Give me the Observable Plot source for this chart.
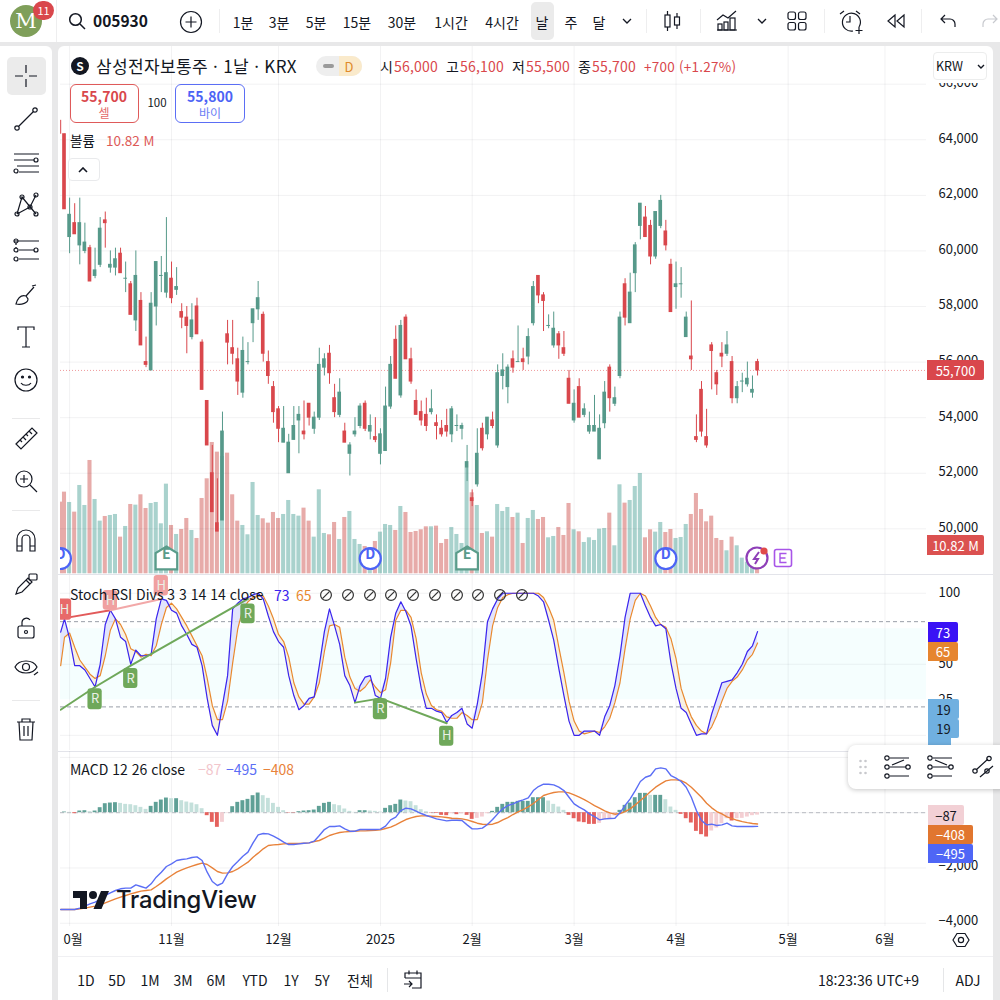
<!DOCTYPE html>
<html lang="ko"><head><meta charset="utf-8">
<script src="https://cdn.jsdelivr.net/npm/d3@7"></script>
<script src="https://cdn.jsdelivr.net/npm/@observablehq/plot@0.6"></script>
<style>
html,body{margin:0;padding:0;background:#fff}
#stage{position:relative;width:1000px;height:1000px;overflow:hidden;background:#e8e8e9;font-family:"Noto Sans CJK KR","Noto Sans",sans-serif;color:#131722}
.p{position:absolute}
.t{position:absolute;white-space:nowrap;line-height:1;transform:translateY(-50%)}
.c{transform:translate(-50%,-50%)}
.pl{position:absolute;left:0}
.pl svg{display:block}
.b{position:absolute;display:flex;align-items:center;justify-content:center;font-size:13px;line-height:1}
svg.ic{position:absolute;fill:none;stroke:#131722;stroke-width:1.2}
</style></head><body><div id="stage"></div>
<script>
// ---------- candles (KRW) ----------
const direction = "RGRGGRGGRG"+"GRGRGRRGGG"+"GRGRRGRRRR"+"RGRRRGGGGR"+"RRRGGGGRRG"+"GGRRGRGGGR"+"GRGGGRGRRR"+"RRGRRRGGGG"+"RGRGRGGGRG"+"RGGRRGGRRR"+"GRGGGGGRGG"+"RGGGRRGGRR"+"GGGRRRRRRR"+"GRGGGGR";
const priceHigh = [64200,61900,61700,61900,61000,60200,60100,61200,61400,60000,60100,60100,59600,58900,60000,58500,56900,58500,59600,59800,61200,59600,59400,58100,58000,58100,58300,56800,54600,53000,51800,54200,57500,57500,56500,56900,56700,57900,58900,57800,56400,55300,54400,54400,53400,54400,54400,54600,54500,54200,56500,56300,56600,55200,55400,53800,53100,54000,54500,54600,54100,54000,53600,55100,56200,57300,57500,57700,56500,55000,54600,54700,55000,54100,53900,54300,54400,54100,53800,53000,51400,53600,53800,54000,54200,55900,56300,55900,56400,57300,56500,57200,58900,59100,58500,57700,57800,57100,57100,55700,55000,55400,54500,54200,54800,54100,55300,55900,55100,57800,59000,59200,60300,61700,61600,61100,61400,62000,61100,59700,59600,59400,57800,58200,54100,55300,54300,56700,55700,56700,57100,56200,55300,55600,56000,55500,56100];
const bodyTop = [64200,61300,61000,61000,60300,60100,59300,60800,61100,59500,59700,59900,59000,58800,59100,58200,56000,58100,59600,59100,59200,59000,58700,57800,57600,57500,58000,56700,54600,52000,50200,53500,57000,56500,56100,56400,56000,57900,58300,57700,56000,55100,54300,53600,53100,53700,54100,53500,54500,54000,55900,56100,56300,54700,54900,53500,53000,53500,54400,54500,53700,53300,53400,54400,55900,56800,57300,57600,56100,54600,54200,54100,54300,53800,53600,53700,54300,53700,53700,52400,51100,52700,53600,54000,53900,55600,55700,55800,56100,56000,56100,56900,58700,59100,58400,57300,57200,57000,56500,55400,54500,55100,54300,53700,53700,53600,54900,55800,54700,57600,58800,58500,60200,61700,61200,60900,61400,61800,60700,59500,58800,58800,57600,56200,53300,55000,53300,56600,55600,56300,56600,56000,55100,55300,55400,55000,56000];
const bodyBottom = [61500,60500,60600,60200,60000,58900,59100,59500,61000,59400,59400,59200,59000,57700,57500,56600,55900,55700,58000,59100,58500,58300,58600,57600,57300,56900,57000,55000,53000,50600,49900,50300,56700,56300,55300,54900,56000,57400,57900,56300,55500,54200,53600,53100,52000,53200,53900,53400,54000,53600,54000,55800,55600,54200,54100,53100,52700,53400,53700,53600,53500,53200,52700,52800,54400,55400,54800,56100,55300,54100,53900,53700,54200,53700,53400,53500,53400,53700,53600,52200,51000,51600,52900,53400,53700,53000,55500,55100,55800,56000,56000,56200,57400,58400,58200,57300,56600,56600,56300,54500,53900,54000,54100,53500,53500,52500,53800,54700,54500,55500,57600,57400,59200,60900,60500,59800,59800,60900,60200,57800,58700,58800,56900,56100,53200,53500,53000,56400,55200,56200,56300,54700,54700,55300,55200,54900,55700];
const priceLow = [61500,59900,60600,59500,59900,58900,59000,59400,60100,59200,59100,59200,58500,57700,57100,56600,55800,55700,57300,58500,58300,58100,58400,57200,56300,56800,57000,55000,53000,50600,49900,50300,55900,55900,54800,54700,55900,56700,57500,56000,55200,53800,53100,53100,52000,53200,52700,53200,53700,53400,53900,55500,55200,54000,54000,53100,51900,53300,53600,53500,53200,53100,52300,52800,54300,55400,54700,56100,55200,54100,53700,53500,54100,53200,53300,53300,53100,53500,53200,51700,50800,51500,52800,53200,53600,52900,55000,54500,55600,56000,55700,55900,57300,58100,57100,57200,56500,56100,56200,54500,53800,54000,54000,53400,53500,52500,53600,54200,54400,55400,57300,57400,58500,60400,60500,59500,59700,60800,60000,57800,57900,58300,56900,55700,53100,53300,52900,55000,54800,55800,56200,54500,54500,54900,55100,54700,55500];
// volume, millions
const volumeM = [33.5,30.4,27.5,35.5,29.5,43,31.3,24.8,26.2,26.5,26.8,20,23.2,29.8,29.6,32.7,28.6,30.1,30.4,24,35.9,23.5,20.8,22.3,25.6,22,19.6,31.6,37.5,48.4,45.5,44.2,45.2,32.7,24.8,23.5,20.7,36.4,26.5,25.5,24.2,27.4,25.6,26.8,31,26.8,26.3,28.7,24.8,20,34.2,21.1,20.7,24.4,19.3,25.9,27.7,19.3,17.8,17.2,16.8,18.7,21.5,23.8,23.5,22,29.2,27.4,21.4,21.7,22.2,23.1,23.1,23.3,18.1,19.3,22.9,20.8,18.1,40.7,33.3,29.5,21.1,21.6,20,29.8,27.7,28.9,25.9,27.2,18.1,25.6,28,25.3,25.9,19.8,20.2,22.9,20.5,30.1,22.2,21.6,18.4,19.8,19,22.4,22.6,27.2,17.4,35.7,30.2,31,35.2,39.1,19.8,22.2,21.5,24.4,21.4,22.3,19.6,19.9,23.8,26.8,33.1,28.3,24.6,26.3,19.6,19,15.9,20,17.4,13.7,12.5,11,10.82];
// the bar just past the left edge of the view
const priorHigh = 64700, priorLow = 64200, priorVolume = 30.5, priorK = 72.6, priorD = 49, priorMacd = -3500;
// Stoch RSI
const stochK = [82,68,49,49,46,40,34,50,78,88,82,69,66,50,60,56,56,57,82,96,95,88,86,77,71,64,62,49,26,7,0,21,42,89,93,96,97,99,100,96,84,73,66,62,42,28,18,21,26,27,49,73,89,77,64,42,35,23,35,41,42,28,26,40,69,86,94,87,77,54,33,19,19,17,16,9,14,16,19,8,5,22,44,80,89,96,100,100,100,100,100,100,100,98,94,81,67,47,28,10,0,0,3,3,3,0,13,21,35,56,83,100,100,100,91,83,77,78,75,51,33,19,16,8,0,1,1,15,26,37,38,39,44,50,59,63,73];
const stochD = [69,72,62,53,48,43,40,42,56,74,82,78,71,61,59,55,57,56,63,78,90,93,89,83,77,70,63,56,40,21,11,11,24,51,75,89,94,97,98,98,91,82,71,66,55,37,27,22,22,27,37,59,77,78,76,55,41,33,31,34,39,34,30,32,51,81,88,88,83,68,44,29,21,18,17,13,12,12,16,14,11,11,23,53,77,90,97,99,100,100,100,100,100,100,97,90,81,62,44,24,10,3,1,2,3,2,6,12,23,37,61,82,95,100,98,91,83,78,76,68,54,33,22,13,7,3,1,6,14,24,33,38,41,46,53,57,65];
// MACD
const macdLine = [-3500,-3500,-3500,-3452,-3380,-3296,-3235,-3139,-2994,-2898,-2814,-2753,-2729,-2729,-2609,-2669,-2729,-2573,-2332,-2151,-1946,-1850,-1729,-1693,-1669,-1621,-1597,-1729,-2151,-2488,-2633,-2549,-2211,-1946,-1765,-1573,-1428,-1091,-801,-753,-765,-850,-946,-1066,-1151,-1151,-1127,-1103,-1091,-1030,-825,-609,-500,-500,-476,-584,-669,-669,-609,-609,-609,-609,-596,-488,-259,-163,78,163,139,54,-30,-102,-163,-223,-259,-295,-271,-271,-283,-440,-584,-584,-560,-428,-247,-42,139,259,319,404,464,536,801,946,1030,1030,1006,922,801,560,319,199,102,-42,-139,-259,-223,-211,-199,-6,259,500,801,1127,1283,1344,1585,1621,1585,1344,1247,1127,922,560,78,-283,-440,-416,-464,-440,-380,-476,-500,-500,-500,-500,-495];
const signalLine = [-3500,-3500,-3500,-3476,-3452,-3416,-3380,-3332,-3260,-3187,-3115,-3055,-2994,-2934,-2886,-2838,-2814,-2790,-2669,-2537,-2392,-2271,-2151,-2067,-1994,-1934,-1874,-1826,-1874,-1994,-2127,-2187,-2175,-2127,-2030,-1910,-1789,-1609,-1464,-1307,-1187,-1163,-1151,-1127,-1115,-1115,-1115,-1103,-1091,-1042,-1006,-922,-825,-765,-717,-693,-681,-669,-657,-657,-645,-633,-621,-572,-524,-440,-343,-247,-187,-139,-114,-114,-127,-139,-151,-175,-199,-211,-223,-259,-319,-380,-416,-428,-416,-355,-259,-175,-66,30,114,211,331,476,621,681,729,753,753,717,645,560,476,368,259,163,66,-6,-54,-30,42,139,283,440,596,765,922,1042,1151,1187,1187,1163,1066,922,741,560,343,175,42,-42,-150,-215,-275,-325,-360,-390,-408];
const macdHist = [24,12,-36,60,72,36,60,181,325,349,362,337,301,289,253,193,120,229,374,458,530,506,506,434,386,349,289,145,-108,-349,-530,-349,-12,217,374,434,482,615,711,615,518,337,193,72,-12,-12,36,60,72,96,229,337,374,289,253,133,48,12,72,72,60,48,24,157,253,301,458,422,398,253,108,36,-12,-24,-96,-108,-36,-72,-36,-96,-241,-205,-157,-36,48,193,301,374,374,410,410,410,542,542,542,422,301,205,84,-96,-217,-337,-361,-422,-422,-386,-265,-217,-120,84,265,349,542,699,699,627,627,627,470,205,84,-60,-217,-373,-675,-795,-880,-663,-554,-398,-217,-301,-217,-205,-157,-108,-87];
// axes
const priceTicks = [66000,64000,62000,60000,58000,56000,54000,52000,50000];
const stochTicks = [100,75,50,25];
const stochGrid = [100,50,0];
const macdTicks = [-2000,-4000];
const macdGrid = [2000,0,-2000,-4000];
const monthIdx = [1,21,42,62,80,100,120,142,161];
const monthLabels = ["10월","11월","12월","2025","2월","3월","4월","5월","6월"];
// divergence lines & labels of the Stoch RSI Divs study
const bearLine = [[0,82.5],[9,88]], bearLine2 = [[9,88],[19,96]];
const bullLine = [[-0.75,18],[6,34],[13,49],[36,96]];
const hidBull1 = [[57,23],[62,26]], hidBull2 = [[62,26],[75,8.5]];
const divIdx = [0,9,19,6,13,36,62,75];
const divText = ["H","H","H","R","R","R","R","H"];
const divHi = [96,102,112.5,32.7,47,92.5,25.7,6.4];
const divLo = [81,88,98,18,33,78.5,11,-7.7];
const divColor = ["#e86a6a","#f0a0a0","#f0a0a0","#6fa85a","#6fa85a","#6fa85a","#6fa85a","#6fa85a"];
const eventIdx = [-0.8,20,60,79,118];
const eventText = ["D","E","D","E","D"];

const RED="#d9474c", GREEN="#56998a";
const n = direction.length;
const idx = d3.range(n);
const xDomain=[-0.785,169.15];
const up = i => direction[i]==="G";
const candleRows = idx.map(i=>({i,top:bodyTop[i],bot:bodyBottom[i],hi:priceHigh[i],lo:priceLow[i],g:up(i),v:volumeM[i]}));
const stochRows = [{i:-0.75,k:priorK,d:priorD}].concat(idx.map(i=>({i,k:stochK[i],d:stochD[i]})));
const macdRows = [{i:-0.75,m:priorMacd,s:priorMacd}].concat(idx.map(i=>({i,m:macdLine[i],s:signalLine[i]})));
const histRows = idx.map(i=>{const v=macdHist[i],p=i?macdHist[i-1]:0;
  return {i,v,color:v>=0?(v>=p?"#5fa096":"#c4e0db"):(v<=p?"#e5615d":"#f4cfd3")};});
const GRID="#131722", GRIDOP=0.055, FF='"Noto Sans CJK KR","Noto Sans",sans-serif';
const stage=document.getElementById("stage");

function add(html){const d=document.createElement("div");d.innerHTML=html;while(d.firstChild)stage.appendChild(d.firstChild);}
function box(x,y,w,h,bg,extra=""){add(`<div class="p" style="left:${x}px;top:${y}px;width:${w}px;height:${h}px;background:${bg};${extra}"></div>`);}
function txt(x,y,s,o={}){add(`<div class="t${o.c?" c":""}" style="left:${x}px;top:${y}px;font-size:${o.fs||14}px;color:${o.col||"#131722"};font-weight:${o.w||400};${o.extra||""}">${s}</div>`);}
function ic(x,y,w,h,inner,extra=""){add(`<svg class="ic" style="left:${x-w/2}px;top:${y-h/2}px;${extra}" width="${w}" height="${h}" viewBox="0 0 ${w} ${h}">${inner}</svg>`);}
function plotAt(top,height,opts,marks){
  const el=Plot.plot(Object.assign({width:1000,height,marginLeft:60,marginRight:74,marginTop:0,marginBottom:0,
    style:{background:"transparent",fontFamily:FF,fontSize:"13px",color:"#131722",overflow:"visible"},
    x:{domain:xDomain,axis:null},marks},opts));
  const w=document.createElement("div");w.className="pl";w.style.top=top+"px";w.appendChild(el);stage.appendChild(w);
}
function panelFrames(){
  box(0,0,1000,42,"#fff");            // top bar
  box(0,46,52,954,"#fff","border-radius:0 6px 0 0");   // tools
  box(58,46,935,954,"#fff","border-radius:6px 6px 0 0");    // chart
  box(58,574,935,1,"#e3e4ea"); box(58,751,935,1,"#e3e4ea");
  box(58,956,935,1,"#f0f0f3");
}
panelFrames();

// ---------- volume ----------
const vBars = [{i:-0.75,v:priorVolume,g:false}].concat(candleRows);
plotAt(46,528,{y:{domain:[8.79,167.2],axis:null}},[
  Plot.rect(vBars,{x1:d=>d.i-0.4,x2:d=>d.i+0.4,y1:9,y2:"v",fill:d=>d.g?"#a9d2cd":"#e7aba9",clip:true})
]);
// ---------- price ----------
const events = eventIdx.map((i,k)=>({i,t:eventText[k]}));
plotAt(46,528,{y:{domain:[48356,67357],axis:null}},[
  Plot.ruleY(priceTicks,{stroke:GRID,strokeOpacity:GRIDOP,clip:true}),
  Plot.ruleX(monthIdx,{stroke:GRID,strokeOpacity:GRIDOP,clip:true}),
  Plot.ruleY([bodyBottom[n-1]],{stroke:"#e8777a",strokeDasharray:"1 2",strokeOpacity:.75,clip:true}),
  Plot.ruleX([-0.75],{y1:priorLow,y2:priorHigh,stroke:RED,clip:true}),
  Plot.ruleX(candleRows,{x:"i",y1:"lo",y2:"hi",stroke:d=>d.g?GREEN:RED,strokeWidth:1}),
  Plot.rect(candleRows,{x1:d=>d.i-0.36,x2:d=>d.i+0.36,y1:"bot",y2:"top",fill:d=>d.g?GREEN:RED,insetTop:-0.5,insetBottom:-0.5}),
  Plot.axisY({anchor:"right",ticks:priceTicks,tickSize:0,tickPadding:12,label:null,tickFormat:d3.format(","),dy:-1.3,fontSize:13}),
  // corporate-event flags sit on the same time scale
  Plot.dot(events.filter(d=>d.t==="D"),{x:"i",frameAnchor:"bottom",dy:-16,r:10.5,fill:"#fff",stroke:"#4c63f5",strokeWidth:2.2,clip:true}),
  Plot.dot(events.filter(d=>d.t==="E"),{x:"i",frameAnchor:"bottom",dy:-16,r:12,fill:"#fff",stroke:"#5a9c8a",strokeWidth:2.2,
    symbol:{draw(c,s){const r=Math.sqrt(s/Math.PI);c.moveTo(0,-r);c.lineTo(r*.9,-r*.45);c.lineTo(r*.9,r*.9);c.lineTo(-r*.9,r*.9);c.lineTo(-r*.9,-r*.45);c.closePath();}}}),
  Plot.text(events,{x:"i",text:"t",frameAnchor:"bottom",dy:-16,fontSize:14,fontWeight:600,fill:d=>d.t==="D"?"#4c63f5":"#5a9c8a",clip:true})
]);
// ---------- Stoch RSI ----------
const dv = divIdx.map((i,k)=>({i,t:divText[k],hi:divHi[k],lo:divLo[k],c:divColor[k]}));
plotAt(575,175,{y:{domain:[-10.7,112.5],axis:null}},[
  Plot.rect([0],{x1:xDomain[0],x2:xDomain[1],y1:25,y2:75,fill:"#f5fefe"}),
  Plot.ruleY(stochGrid,{stroke:GRID,strokeOpacity:GRIDOP}),
  Plot.ruleX(monthIdx,{stroke:GRID,strokeOpacity:GRIDOP}),
  Plot.ruleY([80,20],{stroke:"#9a9ea8",strokeDasharray:"4 3"}),
  Plot.areaY(stochRows,{x:"i",y1:"d",y2:d=>Math.max(d.k,d.d),fill:"#dcdffb",fillOpacity:.8}),
  Plot.areaY(stochRows,{x:"i",y1:"d",y2:d=>Math.min(d.k,d.d),fill:"#f7efdf",fillOpacity:.9}),
  Plot.line(stochRows,{x:"i",y:"d",stroke:"#e8892f",strokeWidth:1.2,clip:true}),
  Plot.line(stochRows,{x:"i",y:"k",stroke:"#3a24ee",strokeWidth:1.2,clip:true}),
  Plot.line(bullLine,{x:"0",y:"1",stroke:"#6fa85a",strokeWidth:2,clip:true}),
  Plot.line(hidBull1,{x:"0",y:"1",stroke:"#6fa85a",strokeWidth:2}),
  Plot.line(hidBull2,{x:"0",y:"1",stroke:"#6fa85a",strokeWidth:2}),
  Plot.line(bearLine,{x:"0",y:"1",stroke:"#e25a5a",strokeWidth:2}),
  Plot.line(bearLine2,{x:"0",y:"1",stroke:"#f2a8a8",strokeWidth:2}),
  Plot.rect(dv,{x1:d=>d.i-1.4,x2:d=>d.i+1.4,y1:"lo",y2:"hi",fill:"c",rx:3,clip:true}),
  Plot.text(dv,{x:"i",y:d=>(d.hi+d.lo)/2,text:"t",fill:"#eaf0e6",fontSize:13,clip:true}),
  Plot.axisY({anchor:"right",ticks:stochTicks,tickSize:0,tickPadding:12,label:null,fontSize:13})
]);
// ---------- MACD ----------
plotAt(751,175,{y:{domain:[-4116,2213],axis:null}},[
  Plot.ruleY(macdGrid,{stroke:GRID,strokeOpacity:GRIDOP}),
  Plot.ruleX(monthIdx,{stroke:GRID,strokeOpacity:GRIDOP}),
  Plot.ruleY([0],{stroke:"#a8abb3",strokeDasharray:"4 3",strokeWidth:.8}),
  Plot.rect(histRows,{x1:d=>d.i-0.38,x2:d=>d.i+0.38,y1:0,y2:"v",fill:"color"}),
  Plot.line(macdRows,{x:"i",y:"s",stroke:"#e8823a",strokeWidth:1.4,clip:true}),
  Plot.line(macdRows,{x:"i",y:"m",stroke:"#5b6ef5",strokeWidth:1.4,clip:true}),
  Plot.axisY({anchor:"right",ticks:macdTicks,tickSize:0,tickPadding:12,label:null,tickFormat:d3.format(","),dy:-2,fontSize:13})
]);
// ---------- time axis ----------
plotAt(927,24,{y:{domain:[0,1],axis:null}},[
  Plot.text(monthIdx.map((i,k)=>({i,t:monthLabels[k]})),{x:"i",text:"t",y:0.5,fontSize:13,fontWeight:d=>d.t==="2025"?700:400,clip:true})
]);
box(58,928,5,22,"#fff");   // the view's left edge cuts the first month label

// ---------- chart legends ----------
const RT="#d9474c";
add(`<div class="p" style="left:71px;top:57px;width:18px;height:18px;border-radius:50%;background:#131722;color:#fff;font-size:12px;font-weight:700;text-align:center;line-height:18px">S</div>`);
txt(96,65,"삼성전자보통주 · 1날 · KRX",{fs:17,extra:"letter-spacing:.35px;"});
add(`<div class="p" style="left:316px;top:56px;width:46px;height:20px;border-radius:10px;background:#eeeeee;overflow:hidden"><div class="p" style="left:23px;top:0;width:23px;height:20px;background:#faeacb"></div><div class="p" style="left:7px;top:8px;width:11px;height:4px;border-radius:2px;background:#9a9a9a"></div><div class="t c" style="left:33px;top:10px;font-size:13px;color:#e08a2a">D</div></div>`);
[["시",380,"56,000",394],["고",446,"56,100",460],["저",512,"55,500",526],["종",578,"55,700",592]].forEach(a=>{txt(a[1],66,a[0],{fs:14});txt(a[3],66,a[2],{fs:14,col:RT,extra:"letter-spacing:.2px;"});});
txt(644,67,"+700 (+1.27%)",{fs:13.5,col:RT,extra:"letter-spacing:.25px;"});
box(928,50,64,33,"#fff");
add(`<div class="p" style="left:933px;top:52px;width:54px;height:28px;background:#fff;border:1px solid #eceded;border-radius:4px;box-sizing:border-box"></div>`);
txt(936,66,"KRW",{fs:12.5});
ic(981,66,8,5,`<path d="M1 1l3 3 3-3" stroke-width="1.4"/>`);
add(`<div class="p" style="left:70px;top:84px;width:69px;height:39px;box-sizing:border-box;border:1px solid #df5a5a;border-radius:6px;background:#fff"></div>
<div class="p" style="left:175px;top:84px;width:70px;height:39px;box-sizing:border-box;border:1px solid #5b6ef5;border-radius:6px;background:#fff"></div>`);
txt(104,96,"55,700",{c:1,fs:14,w:600,col:RT}); txt(104,113,"셀",{c:1,fs:12,col:"#e46a6a"});
txt(157,103,"100",{c:1,fs:11.5});
txt(210,96,"55,800",{c:1,fs:14,w:600,col:"#4c63f5"}); txt(210,113,"바이",{c:1,fs:12,col:"#6c7ef5"});
txt(70,141,"볼륨",{fs:13.5}); txt(106,141,"10.82 M",{fs:13.5,col:"#dd5a58"});
add(`<div class="p" style="left:68px;top:158px;width:32px;height:23px;background:#fff;border:1px solid #e9eaec;border-radius:4px;box-sizing:border-box"></div>`);
ic(83,170,10,6,`<path d="M1 5l4-4 4 4" stroke-width="1.6"/>`);

// event icons at the right end
ic(757,558,26,26,`<circle cx="13" cy="13" r="10.5" stroke="#8e3fb8" stroke-width="2.2"/><path d="M15 7l-5 7h4l-3 5" stroke="#8e3fb8" stroke-width="2"/><circle cx="20" cy="6" r="3.6" fill="#e04a4a" stroke="none"/>`);
ic(783,558,20,20,`<rect x="1.5" y="1.5" width="17" height="17" rx="2" fill="#fff" stroke="#a855e8" stroke-width="1.6"/><path d="M13.5 5.5h-6.5v9h6.5M7 10h5.5" stroke="#a855e8" stroke-width="1.4"/>`);

txt(70,594,"Stoch RSI Divs 3 3 14 14 close",{fs:14});
txt(274,595,"73",{fs:14,col:"#3a24ee"}); txt(296,595,"65",{fs:14,col:"#e8892f"});
[326,348,370,391,413,435,457,478,500,522].forEach(x=>ic(x,595,14,14,`<circle cx="7" cy="7" r="5.4" stroke="#333"/><path d="M3.4 10.6L10.6 3.4" stroke="#333"/>`));
txt(70,769,"MACD 12 26 close",{fs:14});
txt(198,769,"−87",{fs:14,col:"#f2c6cc"}); txt(226,769,"−495",{fs:14,col:"#5b6ef5"}); txt(263,769,"−408",{fs:14,col:"#e8823a"});

// logo
add(`<svg class="p" style="left:73px;top:890px" width="36" height="20" viewBox="0 0 36 20"><path d="M14 19H7V8H0V1h14zM28.5 19h-8l7.5-18h8z M16 5a4 4 0 1 0 8 0a4 4 0 1 0-8 0z" fill="#131722" stroke="none"/></svg>`);
txt(116,900,"TradingView",{fs:23.8,w:500,extra:"font-family:Inter;letter-spacing:-.2px;"});

// ---------- right-edge badges ----------
function badge(x,y,w,h,bg,col,s,fs=13){add(`<div class="b" style="left:${x}px;top:${y}px;width:${w}px;height:${h}px;background:${bg};color:${col};font-size:${fs}px;border-radius:0 2px 2px 0">${s}</div>`);}
badge(927,360,57,20,RED,"#fff","55,700");
badge(927,535,57,20,"#db5150","#fff","10.82 M");
badge(928,622,30,20,"#3a12f5","#fff","73");
badge(928,642,30,19,"#e6852f","#fff","65");
badge(928,699,31,20,"#70b0e0","#131722","19");
badge(928,719,31,19,"#70b0e0","#131722","19");
box(928,738,23,8,"#70b0e0");
badge(928,805,36,20,"#f2d0d5","#131722","−87");
badge(928,825,45,19,"#e1762f","#fff","−408");
badge(928,844,45,19,"#4f66f6","#fff","−495");
// floating drawing toolbar
add(`<div class="p" style="left:848px;top:745px;width:160px;height:44px;background:#fff;border-radius:8px;box-shadow:0 1px 5px rgba(0,0,0,.22)"></div>`);
ic(863,767,10,18,`<g fill="#c8c9cd" stroke="none"><circle cx="2.5" cy="3" r="1.3"/><circle cx="7.5" cy="3" r="1.3"/><circle cx="2.5" cy="9" r="1.3"/><circle cx="7.5" cy="9" r="1.3"/><circle cx="2.5" cy="15" r="1.3"/><circle cx="7.5" cy="15" r="1.3"/></g>`);
ic(897,767,28,24,`<path d="M7 3h19M7 21h19M7 12h16M9 10l12-5" /><circle cx="4" cy="3" r="2.2"/><circle cx="4" cy="12" r="2.2"/><circle cx="4" cy="21" r="2.2"/><circle cx="25" cy="12" r="2.2"/>`);
ic(940,767,28,24,`<path d="M7 3h19M7 21h19M7 12h16M9 5l12 5" /><circle cx="4" cy="3" r="2.2"/><circle cx="4" cy="12" r="2.2"/><circle cx="4" cy="21" r="2.2"/><circle cx="25" cy="12" r="2.2"/>`);
ic(984,767,26,24,`<path d="M5 15L17 4M9 22L22 11"/><circle cx="4" cy="16" r="2.2"/><circle cx="18" cy="3.5" r="2.2"/><circle cx="16" cy="16" r="2.2"/>`);

// time-axis right
ic(961,940,18,18,`<path d="M5 2.5h8l4 6.5-4 6.5H5l-4-6.5z"/><circle cx="9" cy="9" r="2.6"/>`);
// ---------- bottom bar ----------
[["1D",86],["5D",117],["1M",150],["3M",183],["6M",216],["YTD",255],["1Y",291],["5Y",322],["전체",360]].forEach(a=>txt(a[1],980,a[0],{c:1,fs:14}));
box(387,968,1,24,"#e5e6e8"); box(943,968,1,24,"#e5e6e8");
ic(413,980,22,22,`<path d="M3 9V4h16v15H10M3 9h16M7 1.5v4M15 1.5v4M2 15h8M7 12l3 3-3 3"/>`);
txt(818,980,"18:23:36 UTC+9",{fs:14}); txt(968,980,"ADJ",{c:1,fs:14});

// ---------- top bar ----------
add(`<div class="p" style="left:10px;top:5px;width:32px;height:32px;border-radius:50%;background:#7f9f5a;color:#fff;font-size:21px;text-align:center;line-height:32px;font-family:'DejaVu Serif'">M</div>
<div class="p" style="left:33px;top:1px;width:21px;height:19px;border-radius:10px;background:#d9474c;color:#fff;font-size:11px;text-align:center;line-height:19px">11</div>`);
box(56,0,1,42,"#eeeeef");
ic(77,21,18,18,`<circle cx="7.5" cy="7.5" r="5.8" stroke-width="1.5"/><path d="M12 12l5 5" stroke-width="1.5"/>`);
txt(93,21,"005930",{fs:15.5,w:700});
ic(191,22,24,24,`<circle cx="12" cy="12" r="10.5"/><path d="M12 6.5v11M6.5 12h11"/>`);
box(219,9,1,24,"#eeeeef");
box(531,2,23,38,"#ebebeb","border-radius:5px");
[["1분",243],["3분",279],["5분",316],["15분",357],["30분",402],["1시간",451],["4시간",502],["날",542],["주",571],["달",599]].forEach(a=>txt(a[1],22,a[0],{c:1,fs:14}));
const chev=`<path d="M1 1l4 4 4-4" stroke-width="1.3"/>`;
ic(627,21,10,6,chev); ic(762,21,10,6,chev);
box(646,9,1,24,"#eeeeef"); box(700,9,1,24,"#eeeeef"); box(824,9,1,24,"#eeeeef"); box(921,9,1,24,"#eeeeef");
ic(672,21,20,24,`<rect x="3" y="6" width="5" height="12"/><rect x="12.5" y="8" width="5" height="8"/><path d="M5.5 2v4M5.5 18v4M15 4v4M15 16v4"/>`);
ic(727,20,22,22,`<path d="M1 11l6-5 5 3 8-7M1 21h20"/><rect x="2" y="15" width="4" height="6"/><rect x="8" y="13" width="4" height="8"/><rect x="14" y="9" width="5" height="12"/>`);
ic(797,21,22,22,`<rect x="2" y="2" width="7.5" height="7.5" rx="2"/><rect x="12.5" y="2" width="7.5" height="7.5" rx="2"/><rect x="2" y="12.5" width="7.5" height="7.5" rx="2"/><rect x="12.5" y="12.5" width="7.5" height="7.5" rx="2"/>`);
ic(851,22,26,26,`<path d="M21 18a9 9 0 1 0-6 4M12 7v6H8M2 5l4-3M22 5l-4-3M21 18v7M17.5 21.5h7"/>`);
ic(896,21,20,16,`<path d="M9 2L2 8l7 6zM18 2l-7 6 7 6z"/>`);
ic(948,21,18,16,`<path d="M6 2L2 6l4 4M2 6h9a5 5 0 0 1 5 5v3"/>`);
ic(990,21,18,16,`<path d="M12 2l4 4-4 4M16 6H7a5 5 0 0 0-5 5v3" stroke="#c8cacf"/>`);

// ---------- left tools ----------
box(7,57,39,38,"#ebebeb","border-radius:5px");
const tools=[
 [76,`<path d="M13 2v8M13 16v8M2 13h8M16 13h8"/>`],
 [119,`<path d="M5.5 20.5L20.5 5.5"/><circle cx="4" cy="22" r="2.2"/><circle cx="22" cy="4" r="2.2"/>`],
 [162,`<path d="M1 5h25M1 11h20M4 17h22M6 23h20"/><circle cx="23" cy="11" r="2"/><circle cx="3" cy="22" r="2"/>`],
 [205,`<path d="M4 22L9 5l8 10 6-12M4 22l13-7M9 5l14 17"/><circle cx="4" cy="22" r="2"/><circle cx="9" cy="5" r="2"/><circle cx="17" cy="15" r="2"/><circle cx="23" cy="3" r="2"/><circle cx="23" cy="22" r="2"/>`],
 [250,`<path d="M1 4h25M6 13h15M6 22h20" /><path d="M3 6v2M3 10v2" stroke-dasharray="2 2"/><circle cx="3" cy="4" r="2"/><circle cx="3" cy="13" r="2"/><circle cx="23" cy="13" r="2"/><circle cx="3" cy="22" r="2"/>`],
 [295,`<path d="M3 22c2-7 6-9 10-8l2 3c0 4-6 6-12 5zM13 14l8-9M19 4l4-1" />`],
 [337,`<path d="M5 6V3h16v3M13 3v20M9 23h8"/>`],
 [380,`<circle cx="13" cy="13" r="11"/><circle cx="9.5" cy="10" r="1" fill="#131722"/><circle cx="16.5" cy="10" r="1" fill="#131722"/><path d="M8 16c2 3 8 3 10 0"/>`],
 [438,`<path d="M3 19L19 3l5 5L8 24zM7 15l2 2M10 12l3 3M13 9l2 2M16 6l3 3"/>`],
 [481,`<circle cx="11" cy="11" r="8"/><path d="M17 17l7 7M11 7v8M7 11h8"/>`],
 [540,`<path d="M4 24V12a9 9 0 0 1 18 0v12h-5V12a4 4 0 0 0-8 0v12zM4 19h5M17 19h5"/>`],
 [584,`<path d="M3 23l2-6 10-10 4 4-10 10zM13 9l4 4"/><rect x="16" y="3" width="8" height="6" rx="1"/>`],
 [628,`<rect x="5" y="11" width="16" height="12" rx="2"/><path d="M9 11V7a4.5 4.5 0 0 1 8-2"/><circle cx="13" cy="17" r="1.5"/>`],
 [667,`<path d="M2 13c4-8 18-8 22 0-4 8-18 8-22 0z"/><circle cx="13" cy="13" r="3.5"/><path d="M21 21l4-3"/>`],
 [729,`<path d="M4 6h18M9 6V3h8v3M6 6l1 18h12l1-18M11 10v10M15 10v10"/>`]];
tools.forEach(a=>ic(26,a[0],26,26,a[1]));
[[418],[510],[700]].forEach(a=>box(12,a[0],28,1,"#e9e9ea"));
</script></body></html>
